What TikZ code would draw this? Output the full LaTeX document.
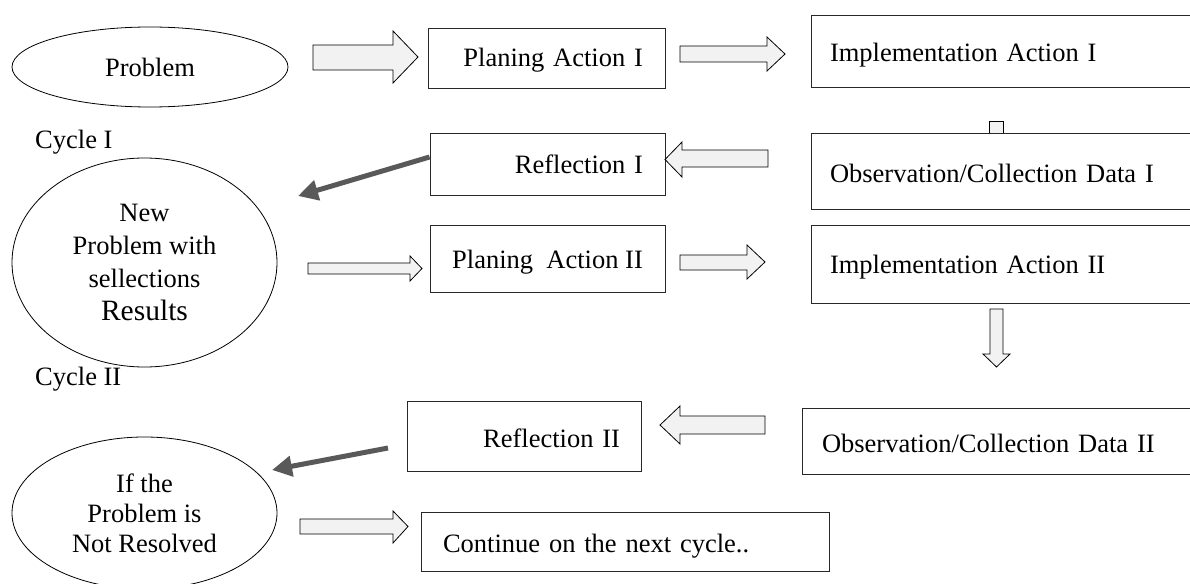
\documentclass[tikz,border=0pt]{standalone}
\usepackage{fontspec}
\setmainfont{Liberation Serif}
\usetikzlibrary{shapes.geometric,arrows.meta}
\definecolor{arrowfill}{RGB}{242,242,242}
\definecolor{darkline}{RGB}{89,89,89}
\definecolor{boxline}{RGB}{40,40,40}
\begin{document}
\begin{tikzpicture}[x=1pt,y=-1pt,
  every node/.style={font=\fontsize{26.5}{31}\selectfont},
  box/.style={draw=boxline, line width=0.9pt, fill=white, inner ysep=0pt, text depth=0pt},
  oval/.style={draw=black, line width=0.8pt, ellipse, inner sep=0pt},
  blockarrow/.style={draw=black, line width=0.8pt, fill=arrowfill, line join=miter},
  darkarrow/.style={draw=darkline, line width=5pt, -{Triangle[length=20pt,width=20pt]}}]
\useasboundingbox (0,0) rectangle (1190,583);
\clip (0,0) rectangle (1190,583);

% small stub between Implementation I and Observation I
\draw[blockarrow] (989,121) rectangle (1003,140);

% ellipses
\node[oval, minimum width=276pt, minimum height=80pt] (prob) at (150,67) {Problem};
\node[oval, minimum width=265pt, minimum height=209pt, align=center,
      font=\fontsize{26.5}{33}\selectfont] (np) at (144.5,262.5)
      {New\\Problem with\\sellections\\{\fontsize{29.5}{35}\selectfont Results}};
\node[oval, minimum width=265pt, minimum height=152pt, align=center,
      font=\fontsize{26.5}{30}\selectfont] (ifn) at (144.5,513)
      {If the\\Problem is\\Not Resolved};

% cycle labels
\node[anchor=base west, inner sep=0pt] (c1) at (35,148) {Cycle I};
\node[anchor=base west, inner sep=0pt] (c2) at (35,385) {Cycle II};

% boxes
\node[box, inner xsep=22pt, text width=193pt, align=right, minimum height=60pt, text height=17.4pt] (pa1) at (546.5,58) {Planing Action I};
\node[box, inner xsep=19pt, text width=351pt, align=left, minimum height=72pt, text height=22pt] (ia1) at (1005.5,51) {Implementation Action I};
\node[box, inner xsep=19pt, text width=351pt, align=left, minimum height=76pt, text height=22pt] (ob1) at (1005.5,171) {Observation/Collection Data I};
\node[box, inner xsep=22pt, text width=191pt, align=right, minimum height=62pt, text height=18pt] (rf1) at (547.5,164) {Reflection I};
\node[box, inner xsep=0pt, minimum width=235pt, minimum height=67pt, text height=19pt, xshift=-2pt] (pa2) at (549.5,258.5) {\makebox[0pt][c]{}Planing\ \ Action II};
\node[box, inner xsep=19pt, text width=351pt, align=left, minimum height=78pt, text height=18pt] (ia2) at (1005.5,264) {Implementation Action II};
\node[box, inner xsep=20pt, text width=358pt, align=left, minimum height=66pt, text height=22pt] (ob2) at (1001,441) {Observation/Collection Data II};
\node[box, inner xsep=21pt, text width=192pt, align=right, minimum height=70pt, text height=22pt] (rf2) at (524,436) {Reflection II};
\node[box, inner xsep=22pt, text width=364pt, align=left, minimum height=59pt, text height=21pt] (ct) at (625,541.5) {Continue on the next cycle..};

% block arrows
\draw[blockarrow] (313,45) -- (393,45) -- (393,31) -- (418,57) -- (393,83) -- (393,70) -- (313,70) -- cycle;
\draw[blockarrow] (680,46) -- (767,46) -- (767,37) -- (785,54) -- (767,71) -- (767,62) -- (680,62) -- cycle;
\draw[blockarrow] (768,150) -- (682,150) -- (682,142) -- (665,159.5) -- (682,177) -- (682,167) -- (768,167) -- cycle;
\draw[blockarrow] (308,263) -- (410,263) -- (410,256) -- (422,268.5) -- (410,281) -- (410,274) -- (308,274) -- cycle;
\draw[blockarrow] (680,255) -- (747,255) -- (747,245) -- (765,262) -- (747,279) -- (747,270) -- (680,270) -- cycle;
\draw[blockarrow] (990,309) -- (990,354) -- (983,354) -- (996.5,367) -- (1010,354) -- (1003,354) -- (1003,309) -- cycle;
\draw[blockarrow] (765,416) -- (680,416) -- (680,406) -- (660,425) -- (680,444) -- (680,434) -- (765,434) -- cycle;
\draw[blockarrow] (300,519) -- (393,519) -- (393,511) -- (408,526.5) -- (393,543) -- (393,534) -- (300,534) -- cycle;

% dark connectors
\coordinate (t1) at (298,196);
\coordinate (s2) at (388,448);
\coordinate (t2) at (272,470);
\draw[darkarrow] ([yshift=7pt]rf1.west) -- (t1);
\draw[darkarrow] (s2) -- (t2);
\end{tikzpicture}
\end{document}
